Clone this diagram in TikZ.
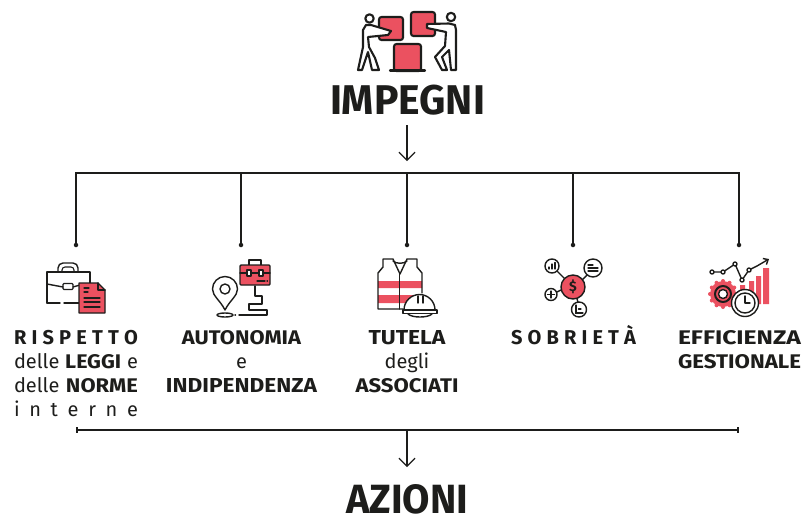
\documentclass[tikz,border=0pt]{standalone}
\usepackage{fontspec}
\usepackage{graphicx}
\setmainfont{Fira Sans}
\usetikzlibrary{arrows.meta}
\definecolor{ink}{HTML}{1D1D1B}
\definecolor{rosso}{HTML}{EB5160}
\newcommand{\sprd}[2]{\makebox[#1pt][s]{#2}}
\newcommand{\fitw}[2]{\resizebox{#1pt}{14pt}{\bfseries #2}}
\tikzset{
  x=1pt,y=-1pt,
  conn/.style={draw=ink,line width=1.5pt},
  arr/.style={draw=ink,line width=1.3pt,-{Straight Barb[length=8pt,width=16pt,line width=1.2pt]}},
  enddot/.style={circle,fill=ink,inner sep=0pt,minimum size=4.5pt},
  title/.style={text=ink,font=\fontsize{41.5}{41.5}\selectfont\bfseries,inner sep=0pt},
  lab/.style={text=ink,font=\fontsize{20}{24}\selectfont,align=center,inner sep=0pt,anchor=north},
  ic/.style={draw=ink,line width=1.4pt,line join=round,line cap=round},
  icr/.style={ic,fill=rosso},
  thin/.style={draw=ink,line width=1.1pt,line cap=round},
}
\begin{document}
\begin{tikzpicture}
\useasboundingbox (0,0) rectangle (803,515);
% titles
\node[title] (impegni) at (407.5,99.7) {\resizebox{155pt}{29.5pt}{IMPEGNI}};
\node[title] (azioni) at (407,499.3) {\resizebox{122pt}{29pt}{AZIONI}};
% labels
\node[lab] (l1) at (76,330.5) {\textbf{\sprd{124}{R\hfill I\hfill S\hfill P\hfill E\hfill T\hfill T\hfill O}}\\
\sprd{124}{delle\hfill\fitw{56}{LEGGI}\hfill e}\\
\sprd{124}{delle\hfill\fitw{72}{NORME}}\\
\sprd{124}{i\hfill n\hfill t\hfill e\hfill r\hfill n\hfill e}};
\node[lab] (l2) at (241.5,330.5) {\fitw{119}{AUTONOMIA}\\e\\\fitw{151}{INDIPENDENZA}};
\node[lab] (l3) at (407,330.5) {\fitw{77}{TUTELA}\\degli\\\fitw{103}{ASSOCIATI}};
\node[lab] (l4) at (573.5,325.5) {\textbf{\sprd{125}{S\hfill O\hfill B\hfill R\hfill I\hfill E\hfill T\hfill À}}};
\node[lab] (l5) at (739.5,330.5) {\fitw{123}{EFFICIENZA}\\\fitw{123}{GESTIONALE}};
% top tree
\coordinate (inT) at (407,125);
\coordinate (outT) at (407,161);
\coordinate (b1) at (76,173);
\coordinate (b2) at (241,173);
\coordinate (b3) at (407,173);
\coordinate (b4) at (573,173);
\coordinate (b5) at (739,173);
\node[enddot] (d1) at (76,245) {};
\node[enddot] (d2) at (241,245) {};
\node[enddot] (d3) at (407,245) {};
\node[enddot] (d4) at (573,245) {};
\node[enddot] (d5) at (739,245) {};
\draw[arr] (inT) -- (outT);
\draw[conn] (d1.center) -- (b1) -- (b5) -- (d5.center);
\draw[conn] (b2) -- (d2.center);
\draw[conn] (b3) -- (d3.center);
\draw[conn] (b4) -- (d4.center);
% bottom tree
\coordinate (cL) at (77,430);
\coordinate (cR) at (738,430);
\coordinate (cM) at (407,430);
\coordinate (cO) at (407,467);
\draw[conn] (cL) -- (cR);
\draw[draw=ink,line width=1.2pt] (77,427) -- (77,433) (738,427) -- (738,433);
\draw[arr] (cM) -- (cO);
% --- icon: impegni
\draw[icr,rounded corners=2.5pt,line width=2.1pt] (379,17) rectangle (403,40);
\draw[icr,rounded corners=2.5pt,line width=2.1pt] (411,12) rectangle (435,36);
\draw[icr,rounded corners=2.5pt,line width=2.1pt] (394,44) rectangle (421,71);
\draw[ic,line width=2.1pt] (390,70.5) -- (425,70.5);
\draw[ic,line width=2.1pt] (369.5,18.5) circle (4.2);
\draw[ic,line width=2.1pt,fill=white] (366,25) -- (363,30) -- (363,47) -- (358,70) -- (362,70) -- (368,52) -- (372,70) -- (379,70) -- (375,58) -- (369,47) -- (368,37) -- (388,35) -- (391,31) -- (371,25) -- cycle;
\draw[ic,line width=2.1pt] (451,17) circle (4.2);
\draw[ic,line width=2.1pt,fill=white] (449,23.5) -- (427,24) -- (427,28) -- (446,32) -- (445,46) -- (435,57) -- (442,70) -- (447,70) -- (442,57) -- (449,50) -- (451,70) -- (456,70) -- (456,30) -- (455,25) -- cycle;
% --- icon: briefcase
\draw[ic] (47,303) -- (47,272) -- (90,272) -- (90,283);
\draw[ic] (47,303) -- (60,303) (64,303) -- (79,303);
\draw[ic] (58,272) -- (58,268) arc (180:270:5) -- (73,263) arc (270:360:5) -- (78,272);
\draw[ic,line width=1.1pt] (62,272) -- (62,270) arc (180:270:3) -- (71,267) arc (270:360:3) -- (74,272);
\draw[ic] (47,284) -- (63,287) (73,287) -- (80,285);
\draw[ic,rounded corners=1pt] (63,283.5) rectangle (73,289.5);
\draw[icr] (79,283) -- (98,283) -- (105,290) -- (105,313) -- (79,313) -- cycle;
\draw[ic] (98,283) -- (98,290) -- (105,290);
\draw[thin] (84,288) -- (89,288) (84,292) -- (88,292) (84,298) -- (100,298) (84,302) -- (100,302) (84,307) -- (100,307);
% --- icon: autonomia
\draw[ic] (249,265) -- (249,260) -- (261,260) -- (261,265);
\draw[icr,rounded corners=1pt] (240,265) rectangle (270,285);
\draw[ic] (240,273) -- (270,273);
\draw[ic,fill=white] (247,270) rectangle (251,276) (259,270) rectangle (263,276);
\draw[thin] (257,281) -- (265,281) (267,281) -- (267.5,281);
\draw[ic] (225,310) .. controls (220,300) and (212.5,296) .. (212.5,289) arc (180:360:12.5) .. controls (237.5,296) and (230,300) .. (225,310) -- cycle;
\draw[ic] (225,289) circle (5);
\draw[ic] (225,315) ellipse (8 and 2);
\draw[ic] (255,286) -- (255,296) -- (262,296) -- (262,304) -- (249,304) -- (249,310) -- (267,310) -- (267,315) -- (239,315);
\draw[ic] (235,315) -- (235.5,315);
% --- icon: vest
\fill[rosso] (378,281) rectangle (422,288) (378,295) rectangle (422,303);
\draw[ic] (403,309) -- (378,309) -- (378,273) -- (383,267) -- (383,259) -- (393,259) -- (400,274) -- (407,259) -- (417,259) -- (417,267) -- (422,273) -- (422,293);
\draw[ic] (393,261) .. controls (396,264) and (404,264) .. (407,261);
\draw[ic] (399.5,274) -- (399.5,309);
\draw[ic,fill=white] (404,310) arc (180:360:15.5) -- cycle;
\draw[ic,fill=white] (403,310) rectangle (437,313.5);
\draw[ic] (408,314) .. controls (412,318) and (428,318) .. (432,314);
\draw[ic] (418,296) -- (418,303) (423,296) -- (423,303);
% --- icon: sobrieta
\draw[ic] (557,271) -- (565,279) (587,275) -- (582,280) (557,292) -- (561,290) (577,299) -- (578,302);
\draw[icr] (573,287) circle (12);
\node[text=ink,font=\fontsize{14}{14}\selectfont\bfseries,inner sep=0pt] (dollar) at (573,287) {\$};
\draw[ic] (552,266) circle (7) (593,268) circle (9) (551,294.5) circle (6) (579,309.5) circle (7.5);
\draw[thin] (549,269) -- (549,267) (552,269) -- (552,264) (555,269) -- (555,262.5);
\draw[thin] (588,265) -- (593,265) (588,268) -- (598,268) (588,271) -- (598,271);
\draw[thin] (547.5,294.5) -- (554.5,294.5) (551,291) -- (551,298);
\draw[thin] (576,305) -- (576,313) -- (583,313) (578.5,309) -- (581,309);
% --- icon: efficienza
\fill[rosso] (740,285) rectangle (745,304) (749,281) rectangle (754,304) (756,276) rectangle (761,304) (763,268) rectangle (769,304);
\fill[rosso] (723,294) circle (13);
\foreach \a in {0,30,...,330} {\fill[rosso] (723,294) ++(\a:13) circle (2);}
\draw[ic,line width=2pt] (723,294) circle (8);
\draw[ic,fill=white,line width=1.4pt] (723,294) circle (4.5);
\draw[ic,fill=white] (745,303) circle (13.5);
\draw[ic] (745,303) circle (10);
\draw[ic] (745,296) -- (745,303) -- (750,303);
\draw[ic,-{Straight Barb[length=4pt,width=7pt]}] (712,272) -- (723,272) -- (735,264) -- (742,280) -- (749,270) -- (757,266) -- (769,259);
\foreach \p in {(712,272),(723,272),(735,264),(742,280),(749,270)} {\draw[ic,fill=white] \p circle (2);}
\end{tikzpicture}
\end{document}
